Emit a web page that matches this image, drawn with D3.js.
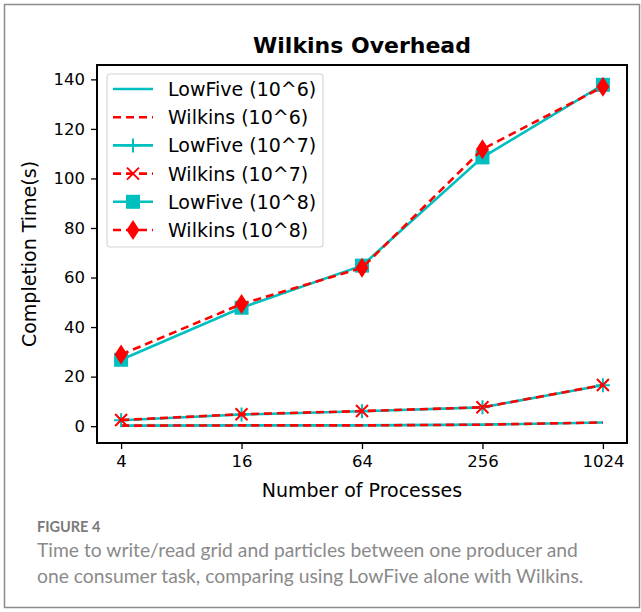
<!DOCTYPE html>
<html>
<head>
<meta charset="utf-8">
<script src="https://cdn.jsdelivr.net/npm/d3@7"></script>
<style>
  body { margin: 0; background: #fff; }
  svg text { font-family: "DejaVu Sans", sans-serif; }
</style>
</head>
<body>
<div id="chart"></div>
<script>
// datos
const procesos = ["4", "16", "64", "256", "1024"];
const lowfive6 = [0.2, 0.3, 0.3, 0.6, 1.5];
const wilkins6 = [0.2, 0.3, 0.3, 0.6, 1.5];
const lowfive7 = [2.4, 4.7, 6.0, 7.6, 16.5];
const wilkins7 = [2.5, 4.8, 6.1, 7.6, 16.6];
const lowfive8 = [26.8, 47.8, 64.8, 108.5, 137.8];
const wilkins8 = [28.9, 49.3, 63.9, 111.8, 137.0];
const yTicks = [0, 20, 40, 60, 80, 100, 120, 140];

const series = [
  { nombre: "LowFive (10^6)", valores: lowfive6, color: "#00bfbf", dash: null, marca: null },
  { nombre: "Wilkins (10^6)", valores: wilkins6, color: "#ff0000", dash: "8,5", marca: null },
  { nombre: "LowFive (10^7)", valores: lowfive7, color: "#00bfbf", dash: null, marca: "plus" },
  { nombre: "Wilkins (10^7)", valores: wilkins7, color: "#ff0000", dash: "8,5", marca: "x" },
  { nombre: "LowFive (10^8)", valores: lowfive8, color: "#00bfbf", dash: null, marca: "square" },
  { nombre: "Wilkins (10^8)", valores: wilkins8, color: "#ff0000", dash: "8,5", marca: "diamond" },
];

const W = 641, H = 612;
const margin = { top: 65, right: 14, bottom: 169, left: 97 };
const width = W - margin.left - margin.right;
const height = H - margin.top - margin.bottom;

const svg = d3.select("#chart").append("svg")
  .attr("width", W).attr("height", H);

// marco exterior
svg.append("rect")
  .attr("x", 4.5).attr("y", 4.5)
  .attr("width", W - 6).attr("height", H - 9)
  .attr("fill", "none").attr("stroke", "#8c8c8c").attr("stroke-width", 1.5);

const g = svg.append("g")
  .attr("transform", "translate(" + margin.left + "," + margin.top + ")");

const x = d3.scalePoint().domain(procesos).range([0, width]).padding(0.2);
const y = d3.scaleLinear().domain([-6.8, 145.8]).range([height, 0]);

// ejes
const ejeX = g.append("g")
  .attr("transform", "translate(0," + height + ")")
  .call(d3.axisBottom(x).tickSize(6).tickPadding(6));
const ejeY = g.append("g")
  .call(d3.axisLeft(y).tickValues(yTicks).tickSize(6).tickPadding(6));
[ejeX, ejeY].forEach((e) => {
  e.select(".domain").remove();
  e.selectAll("line").attr("stroke", "#000").attr("stroke-width", 1.3);
  e.selectAll("text").attr("font-size", "16.5px").attr("fill", "#000")
    .attr("font-family", "DejaVu Sans, sans-serif");
});

g.append("rect")
  .attr("width", width).attr("height", height)
  .attr("fill", "none").attr("stroke", "#000").attr("stroke-width", 2);

function dibujaMarca(sel, tipo, color) {
  if (tipo === "square") {
    sel.append("rect").attr("x", -7).attr("y", -7).attr("width", 14).attr("height", 14)
      .attr("fill", color);
  } else if (tipo === "diamond") {
    sel.append("path").attr("d", "M0,-10L6.5,0L0,10L-6.5,0Z").attr("fill", color);
  } else if (tipo === "plus") {
    sel.append("path").attr("d", "M-7,0H7M0,-7V7").attr("stroke", color).attr("stroke-width", 2);
  } else if (tipo === "x") {
    sel.append("path").attr("d", "M-6,-6L6,6M-6,6L6,-6").attr("stroke", color).attr("stroke-width", 2);
  }
}

const linea = d3.line()
  .x((d, i) => x(procesos[i]))
  .y((d) => y(d));

series.forEach((s) => {
  g.append("path")
    .datum(s.valores)
    .attr("d", linea)
    .attr("fill", "none")
    .attr("stroke", s.color)
    .attr("stroke-width", 2.6)
    .attr("stroke-dasharray", s.dash);
  if (s.marca) {
    s.valores.forEach((v, i) => {
      const m = g.append("g")
        .attr("transform", "translate(" + x(procesos[i]) + "," + y(v) + ")");
      dibujaMarca(m, s.marca, s.color);
    });
  }
});

// leyenda
const ley = g.append("g").attr("transform", "translate(10,9)");
ley.append("rect")
  .attr("width", 216).attr("height", 173).attr("rx", 3)
  .attr("fill", "#fff").attr("fill-opacity", 0.8)
  .attr("stroke", "#d6d6d6").attr("stroke-width", 1.2);
series.forEach((s, i) => {
  const fila = ley.append("g").attr("transform", "translate(0," + (15 + i * 28.2) + ")");
  fila.append("line")
    .attr("x1", 6).attr("x2", 46)
    .attr("stroke", s.color).attr("stroke-width", 2.6)
    .attr("stroke-dasharray", s.dash);
  if (s.marca) {
    const m = fila.append("g").attr("transform", "translate(26,0)");
    dibujaMarca(m, s.marca, s.color);
  }
  fila.append("text")
    .attr("x", 61).attr("y", 7)
    .attr("font-size", "19px")
    .text(s.nombre);
});

// titulos
g.append("text")
  .attr("x", width / 2).attr("y", -12)
  .attr("text-anchor", "middle")
  .attr("font-size", "22px").attr("font-weight", "bold")
  .text("Wilkins Overhead");
g.append("text")
  .attr("x", width / 2).attr("y", height + 54)
  .attr("text-anchor", "middle")
  .attr("font-size", "19px")
  .text("Number of Processes");
g.append("text")
  .attr("transform", "rotate(-90)")
  .attr("x", -height / 2).attr("y", -61)
  .attr("text-anchor", "middle")
  .attr("font-size", "19px")
  .text("Completion Time(s)");

// pie de figura
svg.append("text")
  .attr("x", 37).attr("y", 532)
  .style("font-family", "Lato, sans-serif")
  .attr("font-size", "14.5px").attr("font-weight", "bold").attr("fill", "#7a7a7a")
  .text("FIGURE 4");
["Time to write/read grid and particles between one producer and",
 "one consumer task, comparing using LowFive alone with Wilkins."].forEach((t, i) => {
  svg.append("text")
    .attr("x", 37).attr("y", 557 + i * 25.5)
    .style("font-family", "Lato, sans-serif")
    .attr("font-size", "19.3px").attr("fill", "#8a8a8a")
    .text(t);
});
</script>
</body>
</html>
